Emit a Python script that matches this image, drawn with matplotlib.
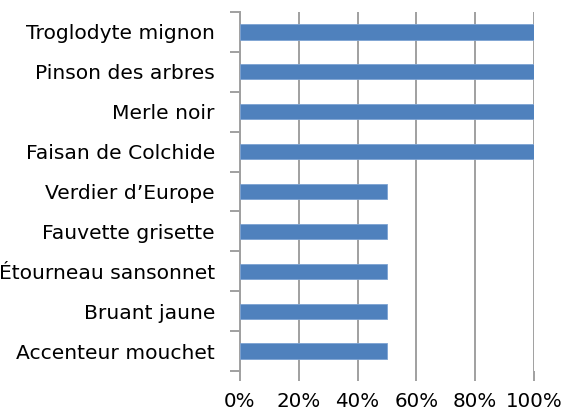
import matplotlib.pyplot as plt
from matplotlib.ticker import FuncFormatter

# species, listed bottom to top
species = ["Accenteur mouchet", "Bruant jaune", "Étourneau sansonnet",
           "Fauvette grisette", "Verdier d\u2019Europe", "Faisan de Colchide",
           "Merle noir", "Pinson des arbres", "Troglodyte mignon"]
shares = [0.5, 0.5, 0.5, 0.5, 0.5, 1.0, 1.0, 1.0, 1.0]
x_ticks = [0, 0.2, 0.4, 0.6, 0.8, 1.0]

plt.rcParams['font.family'] = ['DejaVu Sans']

fig = plt.figure(figsize=(5.63, 4.11), dpi=100)
ax = fig.add_axes([240 / 563, 1 - 371 / 411, 294 / 563, 359 / 411])

pos = list(range(len(species)))
ax.barh(pos, shares, height=0.38, color="#4F81BD", edgecolor="#7DA3D3",
        linewidth=0.6, zorder=3)

ax.set_xlim(0, 1)
ax.set_ylim(-0.5, len(species) - 0.5)

# x axis: gridlines + ticks below, no bottom line
ax.set_xticks(x_ticks)
ax.xaxis.set_major_formatter(FuncFormatter(lambda v, p: f"{v * 100:.0f}%"))
ax.grid(axis="x", color="#A0A0A0", linewidth=1.4, zorder=0)
ax.tick_params(axis="x", length=7, width=1.4, color="#A0A0A0",
               labelsize=14.3, pad=8)

# y axis: ticks between categories, labels at the centers
ax.set_yticks([p - 0.5 for p in pos] + [len(species) - 0.5])
ax.set_yticklabels([])
ax.set_yticks(pos, minor=True)
ax.set_yticklabels(species, minor=True)
ax.tick_params(axis="y", which="major", length=7, width=1.4, color="#A0A0A0")
ax.tick_params(axis="y", which="minor", length=0, labelsize=14.6, pad=18)

for side in ["top", "right", "bottom"]:
    ax.spines[side].set_visible(False)
ax.spines["left"].set_color("#A0A0A0")
ax.spines["left"].set_linewidth(1.4)

plt.savefig("out.png", dpi=100)
